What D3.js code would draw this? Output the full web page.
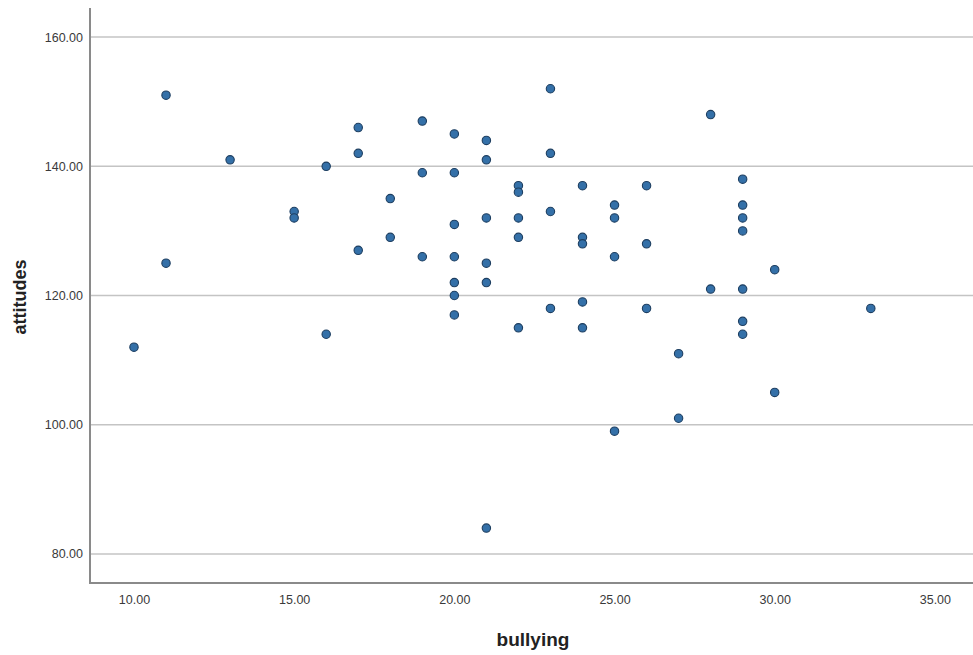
<!DOCTYPE html>
<html><head><meta charset="utf-8">
<script src="https://cdn.jsdelivr.net/npm/d3@7"></script>
<style>body{margin:0;background:#fff}svg{display:block}</style>
</head><body>
<script>
const bullying = [10,11,11,13,15,15,16,16,17,17,17,18,18,19,19,19,
  20,20,20,20,20,20,20,21,21,21,21,21,21,22,22,22,22,22,
  23,23,23,23,24,24,24,24,24,25,25,25,25,26,26,26,27,27,28,28,
  29,29,29,29,29,29,29,30,30,33];
const attitudes = [112,151,125,141,133,132,140,114,146,142,127,135,129,147,139,126,
  145,139,131,126,122,120,117,144,141,132,125,122,84,137,136,132,129,115,
  152,142,133,118,137,129,128,119,115,134,132,126,99,137,128,118,111,101,148,121,
  138,134,132,130,121,116,114,124,105,118];
const xTicks = [10,15,20,25,30,35];
const yTicks = [80,100,120,140,160];
const xTitle = "bullying", yTitle = "attitudes";

(function(){
const W = 973, H = 655;
const mL = 90, mR = 973, mT = 8, mB = 583;
const svg = d3.select("body").append("svg").attr("width", W).attr("height", H);
const x = d3.scaleLinear().domain([8.627, 36.19]).range([mL, mR]);
const y = d3.scaleLinear().domain([75.5, 164.5]).range([mB, mT]);

// gridlines
svg.append("g").selectAll("line").data(yTicks).join("line")
  .attr("x1", mL).attr("x2", mR)
  .attr("y1", d => y(d)).attr("y2", d => y(d))
  .attr("stroke", "#c4c4c4").attr("stroke-width", 1.5);

// axes
const yAxis = svg.append("g").attr("transform", `translate(${mL},0)`)
  .call(d3.axisLeft(y).tickValues(yTicks).tickFormat(d3.format(".2f")).tickSize(0).tickPadding(7));
const xAxis = svg.append("g").attr("transform", `translate(0,${mB})`)
  .call(d3.axisBottom(x).tickValues(xTicks).tickFormat(d3.format(".2f")).tickSize(0).tickPadding(12));
[yAxis, xAxis].forEach(g => {
  g.select(".domain").remove();
  g.selectAll("text").attr("font-family", "Liberation Sans, Arial, sans-serif")
    .attr("font-size", 12.5).attr("fill", "#3a3a3a");
});
svg.append("line").attr("x1", mL).attr("x2", mL).attr("y1", mT).attr("y2", mB + 1)
  .attr("stroke", "#8a8a8a").attr("stroke-width", 2);
svg.append("line").attr("x1", mL - 1).attr("x2", mR).attr("y1", mB).attr("y2", mB)
  .attr("stroke", "#8a8a8a").attr("stroke-width", 2);

// points
svg.append("g").selectAll("circle").data(bullying.map((b, i) => [b, attitudes[i]])).join("circle")
  .attr("cx", d => x(d[0])).attr("cy", d => y(d[1])).attr("r", 4.2)
  .attr("fill", "#3470a8").attr("stroke", "#1d3e60").attr("stroke-width", 1.1);

// titles
svg.append("text").attr("x", 533).attr("y", 646).attr("text-anchor", "middle")
  .attr("font-family", "Liberation Sans, Arial, sans-serif").attr("font-weight", "bold")
  .attr("font-size", 19).attr("fill", "#222").text(xTitle);
svg.append("text").attr("transform", "translate(26,297) rotate(-90)").attr("text-anchor", "middle")
  .attr("font-family", "Liberation Sans, Arial, sans-serif").attr("font-weight", "bold")
  .attr("font-size", 18).attr("fill", "#222").text(yTitle);
})();
</script>
</body></html>
